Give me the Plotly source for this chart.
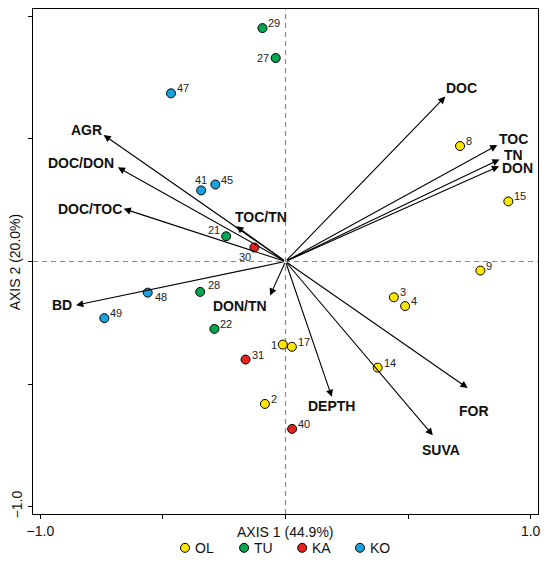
import plotly.graph_objects as go

# sample scores (site number, group, axis 1, axis 2)
site_ids = ["1", "2", "3", "4", "8", "9", "14", "15", "17",
            "21", "22", "27", "28", "29",
            "30", "31", "40",
            "41", "45", "47", "48", "49"]
site_group = ["OL"] * 9 + ["TU"] * 5 + ["KA"] * 3 + ["KO"] * 5
site_x = [-0.011, -0.084, 0.442, 0.488, 0.712, 0.795, 0.376, 0.909, 0.026,
          -0.242, -0.290, -0.040, -0.348, -0.094,
          -0.127, -0.163, 0.027,
          -0.344, -0.286, -0.467, -0.562, -0.739]
site_y = [-0.339, -0.581, -0.146, -0.182, 0.471, -0.037, -0.433, 0.245, -0.348,
          0.103, -0.275, 0.830, -0.124, 0.952,
          0.057, -0.400, -0.683,
          0.290, 0.314, 0.686, -0.127, -0.231]

# environmental vectors
var_names = ["DOC", "TOC", "TN", "DON", "AGR", "DOC/DON", "DOC/TOC", "TOC/TN",
             "BD", "DON/TN", "DEPTH", "SUVA", "FOR"]
var_x = [0.652, 0.864, 0.873, 0.871, -0.742, -0.684, -0.660, -0.201,
         -0.854, -0.063, 0.189, 0.601, 0.743]
var_y = [0.673, 0.475, 0.416, 0.389, 0.516, 0.384, 0.215, 0.144,
         -0.178, -0.139, -0.552, -0.709, -0.516]

groups = ["OL", "TU", "KA", "KO"]
colors = {"OL": "#FFE600", "TU": "#00A650", "KA": "#E5231B", "KO": "#1BA2DC"}

# site number placement: (xanchor, xshift, yshift) in px
site_lab = {"1": ("right", -4, 0), "21": ("right", -4, 6), "27": ("right", -5, 0),
            "30": ("right", -1, -9), "41": ("center", 0, 10),
            "48": ("left", 5, -4), "28": ("left", 6, 7)}
# label offsets (px) from arrow tips
var_shift = {"DOC": (16, 9), "TOC": (16, 6), "TN": (14, 5), "DON": (18, -2),
             "AGR": (-17, 5), "DOC/DON": (-37, 4), "DOC/TOC": (-34, 0),
             "TOC/TN": (25, 9), "BD": (-14, 0), "DON/TN": (-30, -10),
             "DEPTH": (0, -9), "SUVA": (8, -15), "FOR": (6, -23)}
# hand-made legend row below the x axis title (paper coords)
legend_x = [0.301, 0.418, 0.533, 0.6475]
legend_y = -0.067

font = "Liberation Sans, Arial, sans-serif"

fig = go.Figure()

for g in groups:
    idx = [i for i, s in enumerate(site_group) if s == g]
    fig.add_trace(go.Scatter(
        x=[site_x[i] for i in idx],
        y=[site_y[i] for i in idx],
        mode="markers",
        name=g,
        marker=dict(size=9, color=colors[g], line=dict(color="black", width=1)),
        cliponaxis=False,
    ))

annotations = []
for sid, sx, sy in zip(site_ids, site_x, site_y):
    anchor, dx, dy = site_lab.get(sid, ("left", 4, 5))
    annotations.append(dict(
        x=sx, y=sy, xref="x", yref="y", text=sid, showarrow=False,
        xanchor=anchor, yanchor="middle", xshift=dx, yshift=dy,
        font=dict(size=11, color="#222"),
    ))

for name, vx, vy in zip(var_names, var_x, var_y):
    annotations.append(dict(
        x=vx, y=vy, ax=0, ay=0, xref="x", yref="y", axref="x", ayref="y",
        showarrow=True, arrowhead=2, arrowsize=1.3, arrowwidth=1.1,
        arrowcolor="black", text="",
    ))
    dx, dy = var_shift[name]
    annotations.append(dict(
        x=vx, y=vy, xref="x", yref="y", text="<b>" + name + "</b>",
        showarrow=False, xshift=dx, yshift=dy,
        font=dict(size=14, color="#111", family=font),
    ))

annotations.append(dict(x=0, y=-1.03, xref="x", yref="y", yshift=-18,
                        yanchor="middle", text="AXIS 1 (44.9%)", showarrow=False,
                        font=dict(size=14, color="#111")))
annotations.append(dict(x=-0.036, y=0.5, xref="paper", yref="paper",
                        xanchor="center", yanchor="middle",
                        text="AXIS 2 (20.0%)", textangle=-90, showarrow=False,
                        font=dict(size=14, color="#111")))

shapes = [
    dict(type="line", xref="paper", yref="y", x0=0, x1=1, y0=0, y1=0,
         line=dict(color="#888", width=1.2, dash="5px,4px"), layer="below"),
    dict(type="line", xref="x", yref="paper", x0=0, x1=0, y0=0, y1=1,
         line=dict(color="#888", width=1.2, dash="5px,4px"), layer="below"),
]
for g, lx in zip(groups, legend_x):
    shapes.append(dict(type="circle", xref="paper", yref="paper",
                       xsizemode="pixel", ysizemode="pixel",
                       xanchor=lx, yanchor=legend_y,
                       x0=-4.5, x1=4.5, y0=-4.5, y1=4.5,
                       fillcolor=colors[g], line=dict(color="black", width=1)))
    annotations.append(dict(x=lx, y=legend_y, xref="paper", yref="paper",
                            xanchor="left", yanchor="middle", xshift=8,
                            text=g, showarrow=False,
                            font=dict(size=14, color="#111")))

# the page body adds an 8px offset, so the figure is 8px smaller than the window
fig.update_layout(
    width=542, height=555,
    margin=dict(l=25, r=12, t=1, b=49),
    plot_bgcolor="white", paper_bgcolor="white",
    font=dict(family=font, size=14, color="#111"),
    annotations=annotations,
    shapes=shapes,
    showlegend=False,
)

tickvals = [-1, -0.5, 0, 0.5, 1]
ticktext = ["\u22121.0", "", "", "", "1.0"]
fig.update_xaxes(range=[-1.03, 1.03], showgrid=False, zeroline=False,
                 showline=True, linecolor="black", linewidth=1.2, mirror=True,
                 ticks="outside", ticklen=4, tickcolor="black", automargin=False,
                 tickvals=tickvals, ticktext=ticktext, tickfont=dict(size=14))
fig.update_yaxes(range=[-1.03, 1.03], showgrid=False, zeroline=False,
                 showline=True, linecolor="black", linewidth=1.2, mirror=True,
                 ticks="outside", ticklen=4, tickcolor="black", automargin=False,
                 tickvals=tickvals, ticktext=ticktext, tickangle=-90,
                 tickfont=dict(size=14))

fig.write_html("out.html")
